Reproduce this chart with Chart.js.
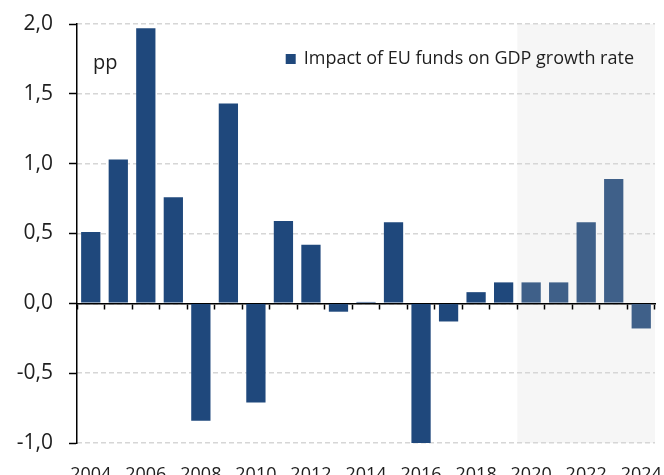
<!DOCTYPE html>
<html>
<head>
<meta charset="utf-8">
<script src="https://cdn.jsdelivr.net/npm/chart.js@4.4.1/dist/chart.umd.min.js"></script>
<style>
  html, body { margin: 0; padding: 0; background: #ffffff; }
  canvas { display: block; }
</style>
</head>
<body>
<canvas id="chart" width="664" height="475"></canvas>
<script>
// Years shown on the category axis
const years = ['2004','2005','2006','2007','2008','2009','2010','2011','2012','2013','2014',
               '2015','2016','2017','2018','2019','2020','2021','2022','2023','2024'];
// Impact of EU funds on GDP growth, percentage points
const impact = [0.51, 1.03, 1.97, 0.76, -0.84, 1.43, -0.71, 0.59, 0.42, -0.06, 0.01,
                0.58, -1.01, -0.13, 0.08, 0.15, 0.15, 0.15, 0.58, 0.89, -0.18];
// First projected year (shaded panel, lighter bars)
const projectionStart = '2020';
// Value axis range and step
const yMin = -1.0;
const yMax = 2.0;
const yStep = 0.5;
const seriesLabel = 'Impact of EU funds on GDP growth rate';
const unitLabel = 'pp';

const histColor = '#1f487c';
const projColor = '#3f6089';
const textColor = '#1e1e1e';
const FONT = '"Open Sans", sans-serif';

const projIndex = years.indexOf(projectionStart);

// keep label overhang from shrinking the plot area
const noOverhang = s => { s.paddingLeft = 0; s.paddingRight = 0; s.paddingTop = 0; s.paddingBottom = 0; };

// Grey panel behind the projection years
const projectionShade = {
  id: 'projectionShade',
  beforeDraw(chart) {
    const { ctx, chartArea, scales: { x } } = chart;
    const half = (x.getPixelForValue(1) - x.getPixelForValue(0)) / 2;
    const left = x.getPixelForValue(projIndex) - half;
    ctx.save();
    ctx.fillStyle = '#f6f6f6';
    ctx.fillRect(left, chartArea.top, chartArea.right - left, chartArea.bottom - chartArea.top);
    ctx.restore();
  }
};

// Unit note and the series key inside the plot
const panelNotes = {
  id: 'panelNotes',
  afterDraw(chart) {
    const { ctx, chartArea } = chart;
    ctx.save();
    ctx.fillStyle = textColor;
    ctx.textBaseline = 'alphabetic';
    ctx.textAlign = 'left';
    ctx.font = '20px ' + FONT;
    ctx.fillText(unitLabel, chartArea.left + 16, chartArea.top + 45);

    ctx.font = '18px ' + FONT;
    const w = ctx.measureText(seriesLabel).width;
    const tx = chartArea.right - 21 - w;
    const baseline = chartArea.top + 40;
    ctx.fillText(seriesLabel, tx, baseline);
    ctx.fillStyle = histColor;
    ctx.fillRect(tx - 18, baseline - 10, 10, 10);
    ctx.restore();
  }
};

new Chart(document.getElementById('chart'), {
  type: 'bar',
  data: {
    labels: years,
    datasets: [{
      label: seriesLabel,
      data: impact,
      backgroundColor: impact.map((_, i) => i >= projIndex ? projColor : histColor),
      borderWidth: 0,
      barPercentage: 0.7,
      categoryPercentage: 1.0
    }]
  },
  options: {
    responsive: false,
    devicePixelRatio: 1,
    animation: false,
    layout: { padding: { left: 0, top: 24, right: 9, bottom: 0 } },
    plugins: {
      legend: { display: false },
      tooltip: { enabled: false },
      title: { display: false }
    },
    scales: {
      x: {
        type: 'category',
        position: 'bottom',
        offset: true,
        grid: { display: false },
        border: { display: false },
        ticks: {
          autoSkip: false,
          maxRotation: 0,
          padding: 13,
          color: textColor,
          font: { family: FONT, size: 18 },
          callback: (v, i) => (i % 2 === 0 ? years[i] : '')
        },
        afterFit: s => { s.height = 32; noOverhang(s); }
      },
      // zero line with tick marks at the category boundaries
      xZero: {
        type: 'category',
        position: { y: 0 },
        offset: true,
        z: 1,
        grid: {
          offset: true,
          drawOnChartArea: false,
          drawTicks: true,
          tickLength: 5,
          tickWidth: 1.5,
          tickColor: '#000000'
        },
        border: { display: true, color: '#000000', width: 1.5 },
        ticks: { display: false },
        afterFit: noOverhang
      },
      // value axis: labels and dashed grid
      y: {
        min: yMin,
        max: yMax,
        ticks: {
          stepSize: yStep,
          padding: 24,
          color: textColor,
          font: { family: FONT, size: 21 },
          callback: v => v.toFixed(1).replace('.', ',')
        },
        grid: {
          color: '#d6d6d6',
          lineWidth: 1.5,
          drawTicks: false
        },
        border: { display: false, dash: [5, 3] },
        afterFit: s => { s.width = 77; noOverhang(s); }
      },
      // solid value-axis line with outward tick marks
      yLine: {
        type: 'linear',
        position: { x: -0.5 },
        min: yMin,
        max: yMax,
        z: 1,
        ticks: { display: false, stepSize: yStep },
        grid: {
          drawOnChartArea: false,
          drawTicks: true,
          tickLength: 7,
          tickWidth: 1.5,
          tickColor: '#000000'
        },
        border: { display: true, color: '#000000', width: 1.5 },
        afterFit: noOverhang
      }
    }
  },
  plugins: [projectionShade, panelNotes]
});
</script>
</body>
</html>
